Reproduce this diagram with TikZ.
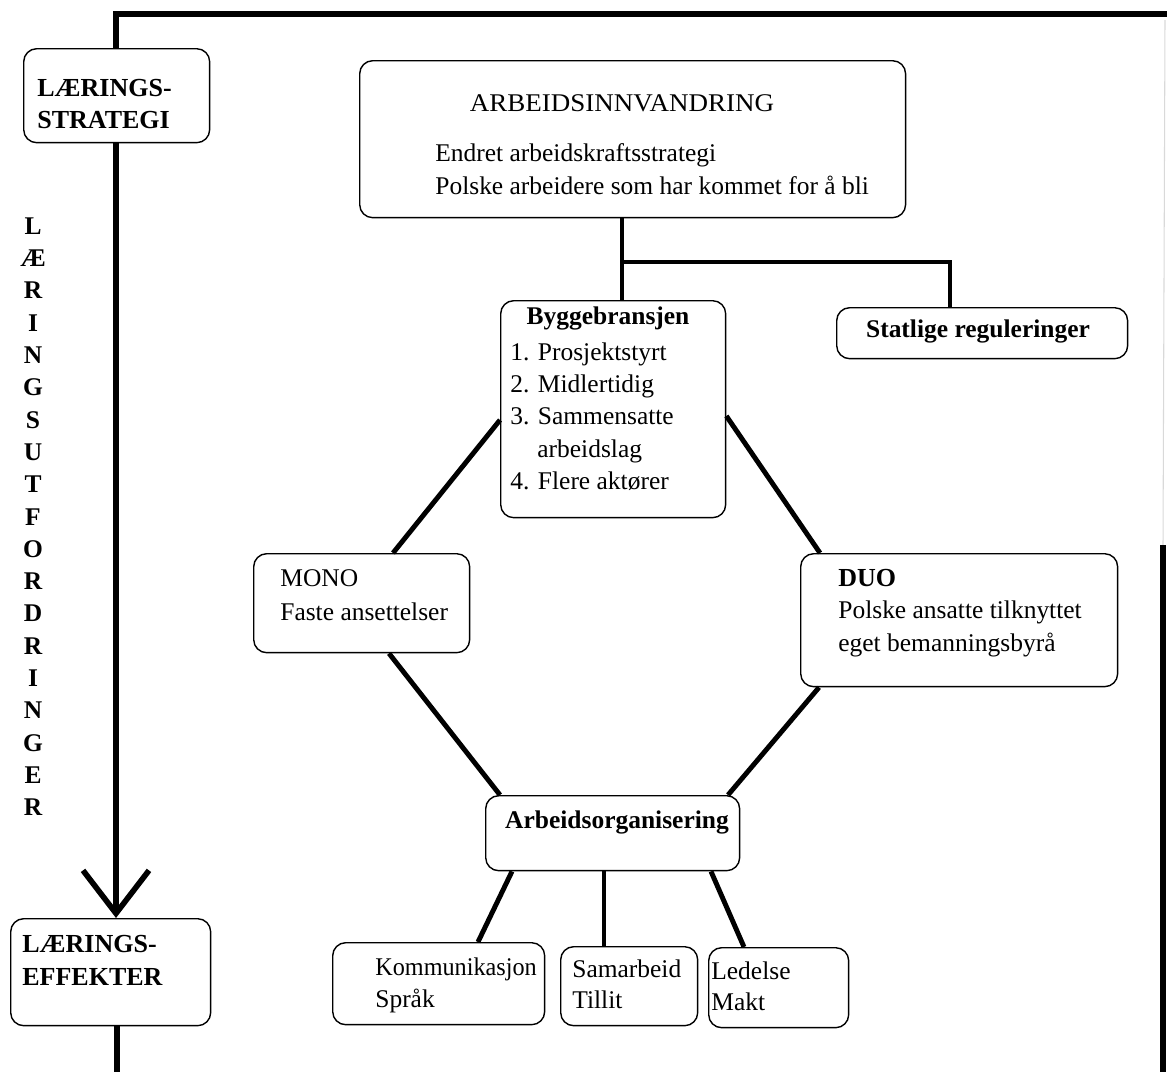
\documentclass[tikz,border=0pt]{standalone}
\usepackage{fontspec}
\setmainfont{Liberation Serif}
\usetikzlibrary{arrows.meta}
\begin{document}
\begin{tikzpicture}[x=0.02cm,y=-0.02cm,
  box/.style={draw, line width=0.8pt, rounded corners=0.26cm, anchor=north west, inner sep=0pt},
  conn/.style={line width=2.8pt},
  txt/.style={anchor=mid west, inner sep=0pt, yshift=-0.09cm, font=\fontsize{14.5}{18}\selectfont},
  btxt/.style={anchor=mid west, inner sep=0pt, yshift=-0.09cm, font=\fontsize{14.8}{18}\selectfont\bfseries},
  ctxt/.style={anchor=mid, inner sep=0pt, yshift=-0.09cm, font=\fontsize{14.5}{18}\selectfont},
  cbtxt/.style={anchor=mid, inner sep=0pt, yshift=-0.09cm, font=\fontsize{14.5}{18}\selectfont\bfseries},
  vtxt/.style={anchor=center, inner sep=0pt, font=\fontsize{14.5}{18}\selectfont\bfseries}]
\useasboundingbox (0,0) rectangle (1167,1072);

% boxes
\node[box, minimum width=3.72cm, minimum height=1.88cm] (lstrat) at (23,48) {};
\node[box, minimum width=4.00cm, minimum height=2.14cm] (leff) at (10,918) {};
\node[box, minimum width=10.92cm, minimum height=3.14cm] (arb) at (359,60) {};
\node[box, minimum width=4.50cm, minimum height=4.34cm] (bygg) at (500,300) {};
\node[box, minimum width=5.82cm, minimum height=1.02cm] (stat) at (836,307) {};
\node[box, minimum width=4.32cm, minimum height=1.98cm] (mono) at (253,553) {};
\node[box, minimum width=6.34cm, minimum height=2.66cm] (duo) at (800,553) {};
\node[box, minimum width=5.08cm, minimum height=1.50cm] (arbo) at (485,795) {};
\node[box, minimum width=4.24cm, minimum height=1.64cm] (komm) at (332,942) {};
\node[box, minimum width=2.74cm, minimum height=1.58cm] (samb) at (560,946) {};
\node[box, minimum width=2.80cm, minimum height=1.60cm] (led) at (708,947) {};

% texts
\node[btxt] (t1) at (37,88) {LÆRINGS-};
\node[btxt] (t2) at (37,120) {STRATEGI};
\node[btxt] (t3) at (22,944) {LÆRINGS-};
\node[btxt] (t4) at (22,977) {EFFEKTER};
\node[ctxt] (t5) at (622,103) {\scalebox{1.06}[1]{ARBEIDSINNVANDRING}};
\node[txt] (t6) at (435,153) {Endret arbeidskraftsstrategi};
\node[txt] (t7) at (435,186) {Polske arbeidere som har kommet for å bli};
\node[cbtxt] (t8) at (608,316) {Byggebransjen};
\node[txt] (t9) at (510,352) {1. Prosjektstyrt};
\node[txt] (t10) at (510,384) {2. Midlertidig};
\node[txt] (t11) at (510,416) {3. Sammensatte};
\node[txt] (t12) at (537,449) {arbeidslag};
\node[txt] (t13) at (510,481) {4. Flere aktører};
\node[cbtxt] (t14) at (978,329) {Statlige reguleringer};
\node[txt] (t15) at (280,578) {MONO};
\node[txt] (t16) at (280,612) {Faste ansettelser};
\node[btxt] (t17) at (838,578) {DUO};
\node[txt] (t18) at (838,610) {Polske ansatte tilknyttet};
\node[txt] (t19) at (838,643) {eget bemanningsbyrå};
\node[cbtxt] (t20) at (617,820) {Arbeidsorganisering};
\node[txt] (t21) at (375,967) {\scalebox{0.95}[1]{Kommunikasjon}};
\node[txt] (t22) at (375,999) {Språk};
\node[txt] (t23) at (572,969) {Samarbeid};
\node[txt] (t24) at (572,1000) {Tillit};
\node[txt] (t25) at (711,971) {Ledelse};
\node[txt] (t26) at (711,1002) {Makt};

\foreach \c [count=\i from 0] in {L,Æ,R,I,N,G,S,U,T,F,O,R,D,R,I,N,G,E,R}
  \node[vtxt] (v\i) at (33,226+32.3*\i) {\c};

% free coordinates
\coordinate (topleft) at (116,14);
\coordinate (topright) at (1167,14);
\coordinate (bot) at (117,1072);
\coordinate (j) at (622,262);
\coordinate (r1) at (1163,545);
\coordinate (r2) at (1163,1072);
\coordinate (g1) at (1165,20);

% connectors
\draw[conn, line width=3.2pt] (116,0 |- lstrat.north) -- (topleft) -- (topright);
\draw[conn, line width=3.2pt, -{Straight Barb[length=0.86cm, width=1.32cm, line width=3.2pt]}]
  (116,0 |- lstrat.south) -- (116,0 |- leff.north);
\draw[conn, line width=3.2pt] (117,0 |- leff.south) -- (bot);
\draw[gray!30, line width=0.6pt] (g1) -- (r1);
\draw[conn, line width=3.6pt] (r1) -- (r2);

\draw[conn] (622,0 |- arb.south) -- (622,0 |- bygg.north);
\draw[conn] (j) -| (950,0 |- stat.north);
\draw[conn] (bygg.west |- 0,420) -- (393,0 |- mono.north);
\draw[conn] (bygg.east |- 0,416) -- (820,0 |- duo.north);
\draw[conn] (389,0 |- mono.south) -- (500,0 |- arbo.north);
\draw[conn] (819,0 |- duo.south) -- (728,0 |- arbo.north);
\draw[conn] (512,0 |- arbo.south) -- (478,0 |- komm.north);
\draw[conn] (604,0 |- arbo.south) -- (604,0 |- samb.north);
\draw[conn] (711,0 |- arbo.south) -- (744,0 |- led.north);
\end{tikzpicture}
\end{document}
